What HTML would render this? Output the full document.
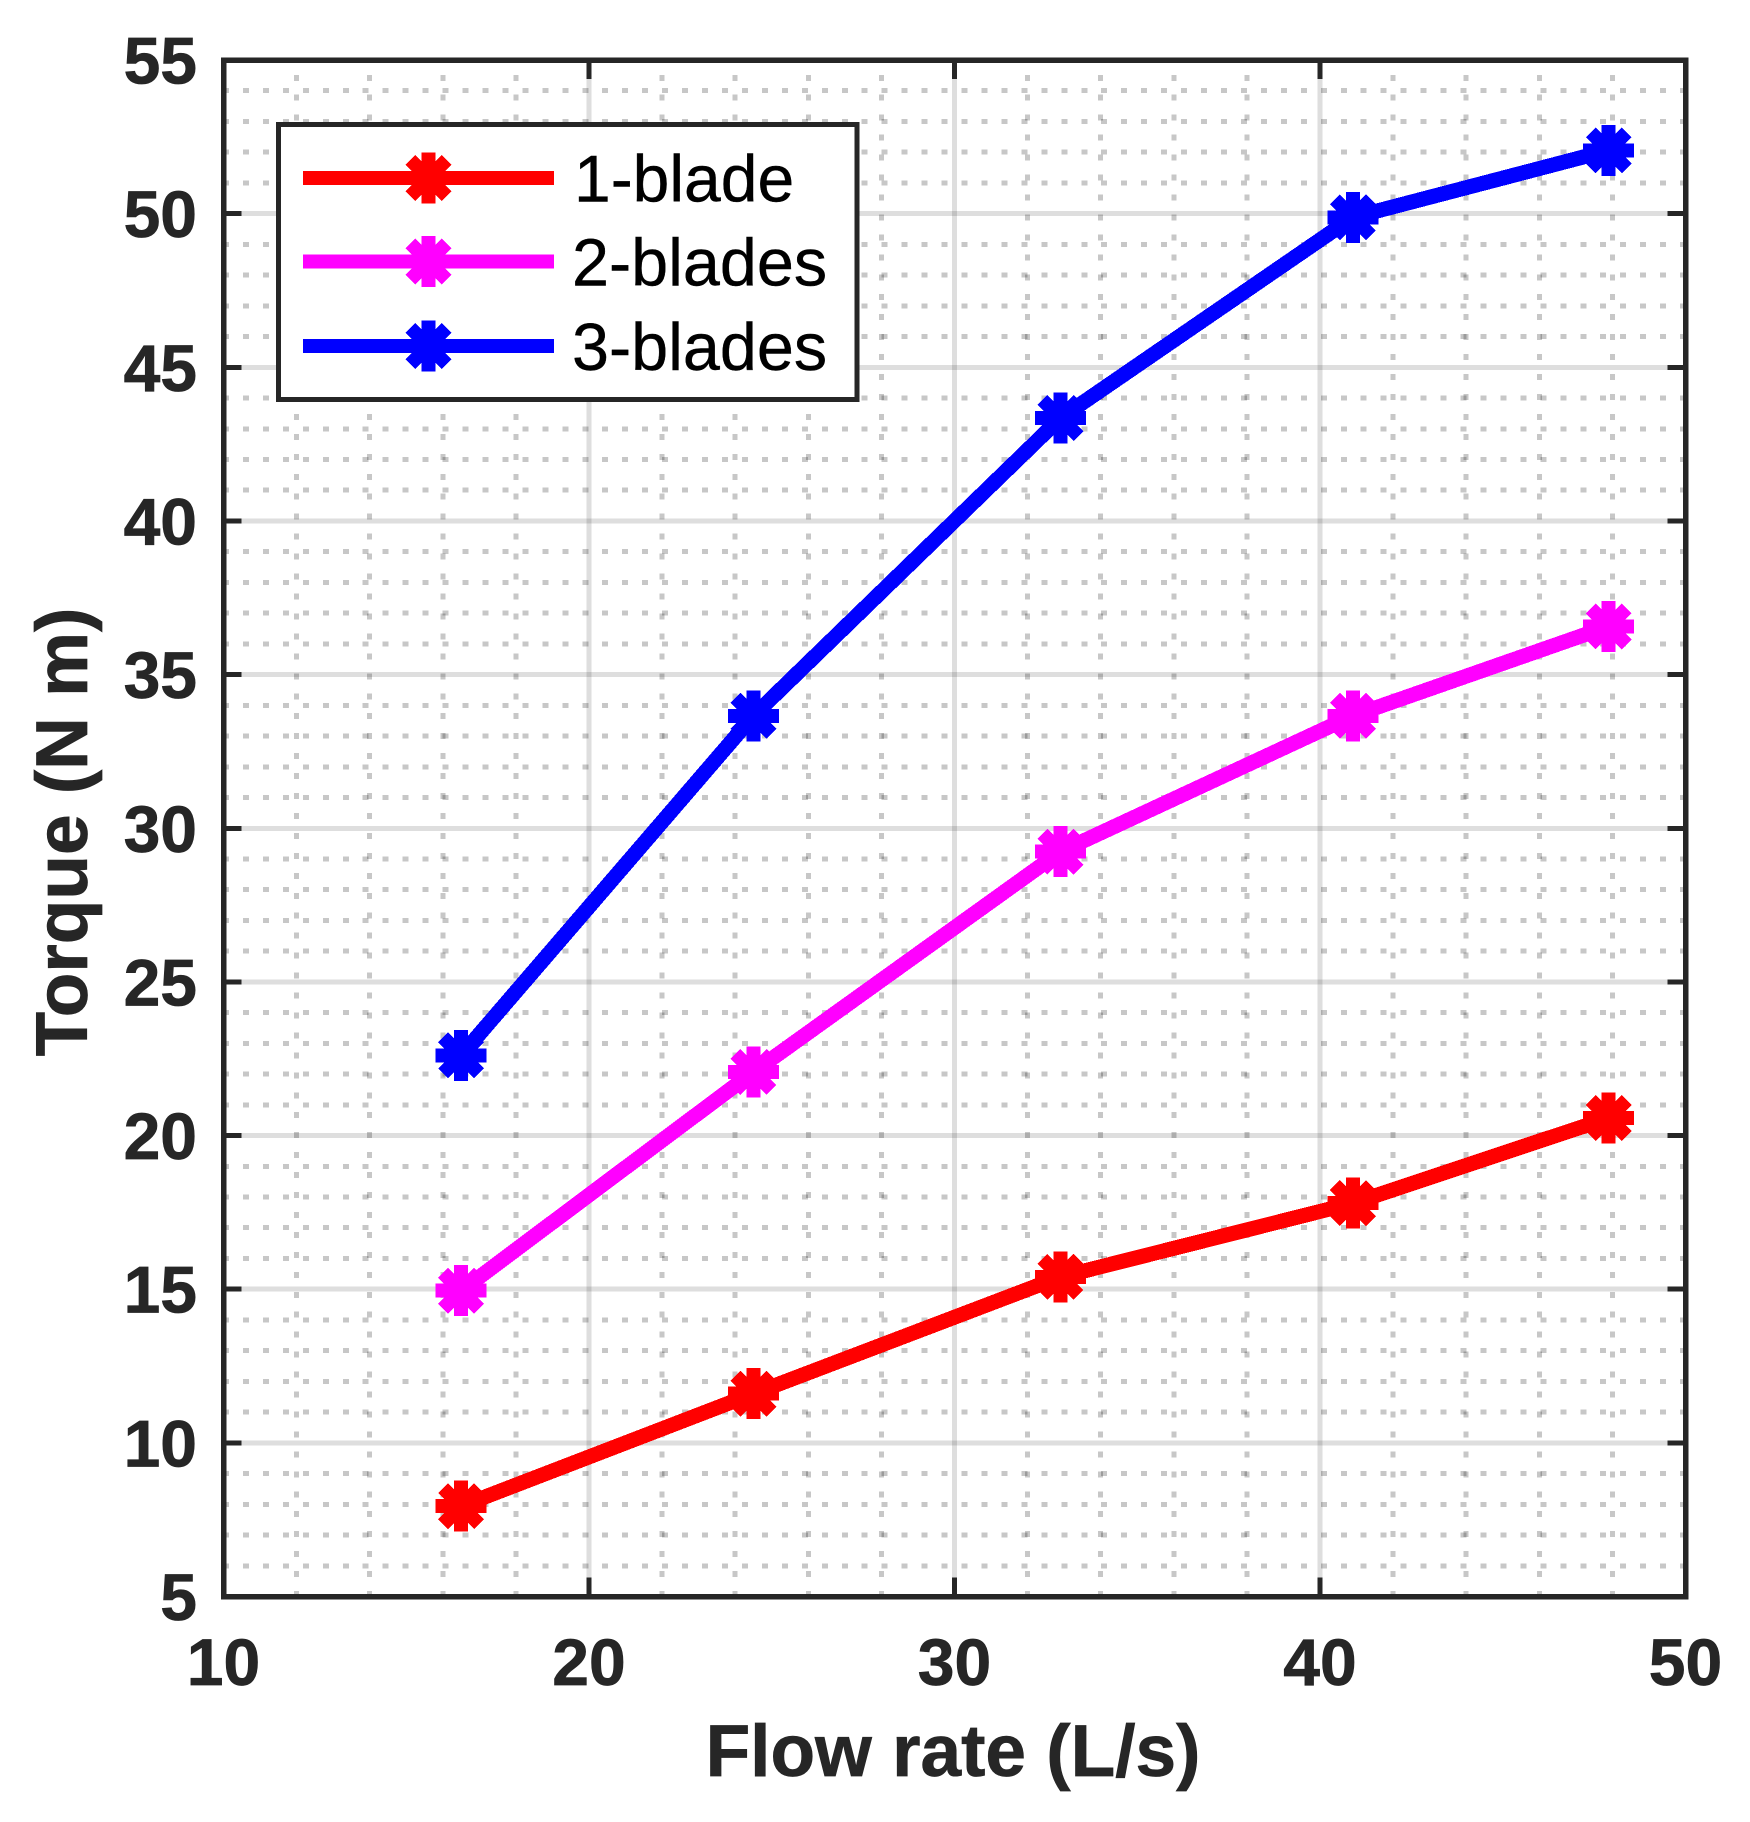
<!DOCTYPE html>
<html lang="en">
<head>
<meta charset="utf-8">
<title>Torque vs Flow rate</title>
<style>
html,body{margin:0;padding:0;background:#fff;}
svg{display:block;}
text{font-family:"Liberation Sans",Arial,sans-serif;}
</style>
</head>
<body>
<svg id="chart" xmlns="http://www.w3.org/2000/svg" width="1750" height="1822" viewBox="0 0 1750 1822">
  <rect x="0" y="0" width="1750" height="1822" fill="#ffffff"/>
  <g id="grid" shape-rendering="crispEdges"></g>
  <g id="series" shape-rendering="crispEdges"></g>
  <g id="axes"></g>
  <text x="953" y="1776" font-size="73" font-weight="bold" fill="#262626" stroke="#262626" stroke-width="0.7" text-anchor="middle">Flow rate (L/s)</text>
  <text transform="translate(87,832) rotate(-90)" font-size="73" font-weight="bold" fill="#262626" stroke="#262626" stroke-width="0.7" text-anchor="middle">Torque (N m)</text>
  <g id="legend">
    <rect x="278.5" y="124.5" width="578.5" height="275" fill="#ffffff" stroke="#262626" stroke-width="5" shape-rendering="crispEdges"/>
    <g id="legend-marks" shape-rendering="crispEdges"></g>
    <text x="574" y="201.5" font-size="66" fill="#000000" stroke="#000000" stroke-width="0.4">1-blade</text>
    <text x="572" y="285.5" font-size="66.5" fill="#000000" stroke="#000000" stroke-width="0.4">2-blades</text>
    <text x="572" y="370" font-size="66.5" fill="#000000" stroke="#000000" stroke-width="0.4">3-blades</text>
  </g>
</svg>
<script>
const flowRates = [16.5, 24.5, 32.9, 40.9, 47.9];
const torqueOneBlade = [7.94, 11.6, 15.4, 17.8, 20.57];
const torqueTwoBlades = [14.95, 22.07, 29.24, 33.66, 36.57];
const torqueThreeBlades = [22.61, 33.66, 43.35, 49.88, 52.06];
const seriesNames = ['1-blade', '2-blades', '3-blades'];
const seriesColors = ['#ff0000', '#ff00ff', '#0000ff'];
const xTickLabels = [10, 20, 30, 40, 50];
const yTickLabels = [5, 10, 15, 20, 25, 30, 35, 40, 45, 50, 55];
const xMinorValues = [12, 14, 16, 18, 22, 24, 26, 28, 32, 34, 36, 38, 42, 44, 46, 48];
const yMinorValues = [6, 7, 8, 9, 11, 12, 13, 14, 16, 17, 18, 19, 21, 22, 23, 24, 26, 27, 28, 29, 31, 32, 33, 34, 36, 37, 38, 39, 41, 42, 43, 44, 46, 47, 48, 49, 51, 52, 53, 54];

const NS = 'http://www.w3.org/2000/svg';
const plotLeft = 223.5, plotRight = 1685.5, plotTop = 60, plotBottom = 1596.5;
const xDomain = [10, 50], yDomain = [5, 55];
const xScale = v => plotLeft + (v - xDomain[0]) / (xDomain[1] - xDomain[0]) * (plotRight - plotLeft);
const yScale = v => plotBottom - (v - yDomain[0]) / (yDomain[1] - yDomain[0]) * (plotBottom - plotTop);

function make(tag, attrs, parent) {
  const el = document.createElementNS(NS, tag);
  for (const k in attrs) el.setAttribute(k, attrs[k]);
  parent.appendChild(el);
  return el;
}

const gridG = document.getElementById('grid');
const seriesG = document.getElementById('series');
const axesG = document.getElementById('axes');
const legendMarks = document.getElementById('legend-marks');

yMinorValues.forEach(v => {
  const l = make('line', {x1: 223, x2: plotRight - 2, y1: yScale(v), y2: yScale(v), stroke: 'rgba(0,0,0,0.22)', 'stroke-width': 5, 'stroke-dasharray': '6 13.96'}, gridG);
  
  
});
xMinorValues.forEach(v => {
  const l = make('line', {x1: xScale(v), x2: xScale(v), y1: 1597, y2: plotTop, stroke: 'rgba(0,0,0,0.22)', 'stroke-width': 5, 'stroke-dasharray': '6 13.95'}, gridG);
  
  
});
yTickLabels.slice(1, -1).forEach(v => {
  const l = make('line', {x1: plotLeft, x2: plotRight, y1: yScale(v), y2: yScale(v), stroke: 'rgba(0,0,0,0.13)', 'stroke-width': 5}, gridG);
  
  
});
xTickLabels.slice(1, -1).forEach(v => {
  const l = make('line', {x1: xScale(v), x2: xScale(v), y1: plotTop, y2: plotBottom, stroke: 'rgba(0,0,0,0.13)', 'stroke-width': 5}, gridG);
  
  
});

function drawMarker(parent, cx, cy, color) {
  const g = make('g', {}, parent);
  
  
  const r = 25.5, d = r * Math.SQRT1_2;
  [[r, 0], [0, r], [d, d], [d, -d]].forEach(a => {
    make('line', {x1: cx - a[0], y1: cy - a[1], x2: cx + a[0], y2: cy + a[1], stroke: color, 'stroke-width': 14}, g);
  });
}

const allSeries = [torqueOneBlade, torqueTwoBlades, torqueThreeBlades];
allSeries.forEach((vals, i) => {
  const g = make('g', {}, seriesG);
  
  
  const pts = vals.map((v, j) => xScale(flowRates[j]) + ',' + yScale(v)).join(' ');
  const line = make('polyline', {points: pts, fill: 'none', stroke: seriesColors[i], 'stroke-width': 15, 'stroke-linejoin': 'round'}, g);
  
  
  vals.forEach((v, j) => drawMarker(g, xScale(flowRates[j]), yScale(v), seriesColors[i]));
});

const legendRows = [178, 261.5, 346];
legendRows.forEach((y, i) => {
  const l = make('line', {x1: 303, x2: 554, y1: y, y2: y, stroke: seriesColors[i], 'stroke-width': 14}, legendMarks);
  
  
  drawMarker(legendMarks, 428.5, y, seriesColors[i]);
});

const frame = make('rect', {x: plotLeft, y: plotTop, width: plotRight - plotLeft, height: plotBottom - plotTop, fill: 'none', stroke: '#262626', 'stroke-width': 5.5, 'shape-rendering': 'crispEdges'}, axesG);



xTickLabels.forEach(v => {
  const x = xScale(v);
  if (v !== xDomain[0] && v !== xDomain[1]) {
    [[plotBottom, plotBottom - 19], [plotTop, plotTop + 19]].forEach(p => {
      const t = make('line', {x1: x, x2: x, y1: p[0], y2: p[1], stroke: '#262626', 'stroke-width': 5, 'shape-rendering': 'crispEdges'}, axesG);
      
      
    });
  }
  const label = make('text', {x: x, y: 1685, 'font-size': 66, 'font-weight': 'bold', fill: '#262626', stroke: '#262626', 'stroke-width': 0.7, 'text-anchor': 'middle'}, axesG);
  
  
  label.textContent = v;
});

yTickLabels.forEach(v => {
  const y = yScale(v);
  if (v !== yDomain[0] && v !== yDomain[1]) {
    [[plotLeft, plotLeft + 18], [plotRight, plotRight - 18]].forEach(p => {
      const t = make('line', {x1: p[0], x2: p[1], y1: y, y2: y, stroke: '#262626', 'stroke-width': 5, 'shape-rendering': 'crispEdges'}, axesG);
      
      
    });
  }
  const label = make('text', {x: 197, y: y + 23.5, 'font-size': 66, 'font-weight': 'bold', fill: '#262626', stroke: '#262626', 'stroke-width': 0.7, 'text-anchor': 'end'}, axesG);
  
  
  label.textContent = v;
});
</script>
</body>
</html>
